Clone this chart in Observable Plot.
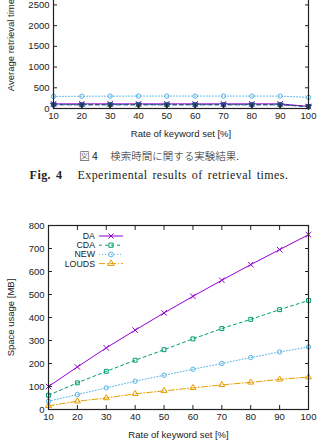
<!DOCTYPE html>
<html>
<head>
<meta charset="utf-8">
<script src="https://cdn.jsdelivr.net/npm/d3@7"></script>
<script src="https://cdn.jsdelivr.net/npm/@observablehq/plot@0.6"></script>
<style>
  html, body { margin: 0; padding: 0; background: #fff; }
  #page { position: relative; width: 318px; height: 445px; overflow: hidden; background: #fff; }
  #page svg { position: absolute; left: 0; overflow: visible; }
  .cap { position: absolute; left: 0; width: 318px; text-align: center; white-space: nowrap; color: #222; }
  #capJa { top: 148px; font-family: "Noto Sans CJK JP", sans-serif; font-size: 10.5px; font-weight: 300; }
  #capEn { top: 168px; font-family: "Liberation Serif", serif; font-size: 12px; letter-spacing: 0.45px; word-spacing: 1.5px; }
  #capJa b, #capEn b { margin-right: 10px; }
</style>
</head>
<body>
<div id="page">
  <div id="top"></div>
  <div class="cap" id="capJa">図 <b>4</b> 検索時間に関する実験結果.</div>
  <div class="cap" id="capEn"><b>Fig. 4</b> Experimental results of retrieval times.</div>
  <div id="bottom"></div>
</div>
<script>
// Rate of keyword set [%]
const rates = [10, 20, 30, 40, 50, 60, 70, 80, 90, 100];

// Average retrieval time (upper figure)
const timeDA    = [112, 112, 112, 112, 112, 112, 112, 112, 112, 50];
const timeCDA   = [95, 95, 95, 95, 95, 95, 95, 95, 95, 45];
const timeNEW   = [292, 296, 298, 300, 300, 300, 300, 300, 300, 268];
const timeOther = [88, 88, 88, 88, 88, 88, 88, 88, 88, 48];

// Space usage [MB] (lower figure)
const spaceDA    = [100, 185, 268, 345, 420, 492, 562, 630, 695, 760];
const spaceCDA   = [62, 116, 166, 214, 260, 307, 352, 392, 434, 474];
const spaceNEW   = [36, 65, 94, 123, 149, 175, 200, 226, 250, 272];
const spaceLOUDS = [16, 36, 50, 68, 81, 94, 107, 118, 131, 141];

const seriesNames = ["DA", "CDA", "NEW", "LOUDS"];
const xTicks = rates;
const yTicksTime = [0, 500, 1000, 1500, 2000, 2500, 3000];
const yTicksSpace = [0, 100, 200, 300, 400, 500, 600, 700, 800];

const styles = {
  DA:    {stroke: "#9400d3", dash: null,      symbol: "times",    fill: "none"},
  CDA:   {stroke: "#009e73", dash: "3,3",     symbol: "square",   fill: "none"},
  NEW:   {stroke: "#56b4e9", dash: "1,2",     symbol: "circle",   fill: "none"},
  LOUDS: {stroke: "#e69f00", dash: "6,2,1,2", symbol: "triangle", fill: "none"},
  other: {stroke: "#24497a", dash: "4,3",     symbol: "triangle", fill: "#24497a", rotate: 180}
};

function rows(name, values) {
  return rates.map((r, i) => ({series: name, rate: r, value: values[i]}));
}

function seriesMarks(name, data) {
  const s = styles[name];
  return [
    Plot.line(data, {x: "rate", y: "value", stroke: s.stroke, strokeWidth: 1, strokeDasharray: s.dash}),
    Plot.dot(data, {x: "rate", y: "value", symbol: s.symbol, r: s.symbol === "times" ? 2.6 : 2.2,
      stroke: s.stroke, fill: s.fill, strokeWidth: 1, rotate: s.rotate || 0})
  ];
}

const font = {fontSize: 9.5, fontFamily: "Liberation Sans, Arial, sans-serif"};

function frameAxes(yTicks, yLabel, yLabelOffset) {
  return [
    Plot.axisX({ticks: xTicks, tickSize: -4, tickPadding: 8, tickFormat: d3.format("d"),
      label: "Rate of keyword set [%]", labelAnchor: "center", labelArrow: "none", labelOffset: 28, ...font}),
    Plot.axisX({anchor: "top", ticks: xTicks, tickSize: -4, tickFormat: () => "", label: null}),
    Plot.axisY({ticks: yTicks, tickSize: -4, tickPadding: 8, tickFormat: d3.format("d"),
      label: yLabel, labelAnchor: "center", labelArrow: "none", labelOffset: yLabelOffset, ...font}),
    Plot.axisY({anchor: "right", ticks: yTicks, tickSize: -4, tickFormat: () => "", label: null}),
    Plot.frame({stroke: "#222", strokeWidth: 1.2})
  ];
}

// Upper figure: retrieval time (its upper part lies above the page)
const topChart = Plot.plot({
  width: 318,
  height: 180,
  marginLeft: 53,
  marginRight: 10,
  marginTop: 5,
  marginBottom: 30,
  style: {background: "transparent", color: "#222"},
  x: {domain: [10, 100]},
  y: {domain: [0, 3500]},
  marks: [
    ...seriesMarks("NEW", rows("NEW", timeNEW)),
    ...seriesMarks("CDA", rows("CDA", timeCDA)),
    ...seriesMarks("DA", rows("DA", timeDA)),
    ...seriesMarks("other", rows("other", timeOther)),
    ...frameAxes(yTicksTime, "Average retrieval time [μs]", 46)
  ]
});
topChart.style.top = "-41.7px";
document.getElementById("top").appendChild(topChart);

// Lower figure: space usage
const bottomChart = Plot.plot({
  width: 318,
  height: 224,
  marginLeft: 48,
  marginRight: 10,
  marginTop: 10,
  marginBottom: 30,
  style: {background: "transparent", color: "#222"},
  x: {domain: [10, 100]},
  y: {domain: [0, 800]},
  marks: [
    ...seriesMarks("LOUDS", rows("LOUDS", spaceLOUDS)),
    ...seriesMarks("NEW", rows("NEW", spaceNEW)),
    ...seriesMarks("CDA", rows("CDA", spaceCDA)),
    ...seriesMarks("DA", rows("DA", spaceDA)),
    ...frameAxes(yTicksSpace, "Space usage [MB]", 41)
  ]
});
bottomChart.style.top = "215px";
document.getElementById("bottom").appendChild(bottomChart);

// Key in the upper-left corner of the lower figure
const key = d3.select(bottomChart).append("g")
  .attr("font-family", "Liberation Sans, Arial, sans-serif")
  .attr("font-size", 8.8);
seriesNames.forEach((name, i) => {
  const s = styles[name];
  const y = 21 + i * 9.2;
  key.append("text").attr("x", 95).attr("y", y).attr("dy", "0.35em")
    .attr("text-anchor", "end").attr("fill", "#222").text(name);
  key.append("line").attr("x1", 99).attr("x2", 123).attr("y1", y).attr("y2", y)
    .attr("stroke", s.stroke).attr("stroke-width", 1)
    .attr("stroke-dasharray", s.dash);
  const sym = d3.symbol(s.symbol === "times" ? d3.symbolTimes : s.symbol === "square" ? d3.symbolSquare
      : s.symbol === "circle" ? d3.symbolCircle : d3.symbolTriangle, 18);
  key.append("path").attr("d", sym()).attr("transform", `translate(111,${y})`)
    .attr("fill", "none").attr("stroke", s.stroke);
});
</script>
</body>
</html>
